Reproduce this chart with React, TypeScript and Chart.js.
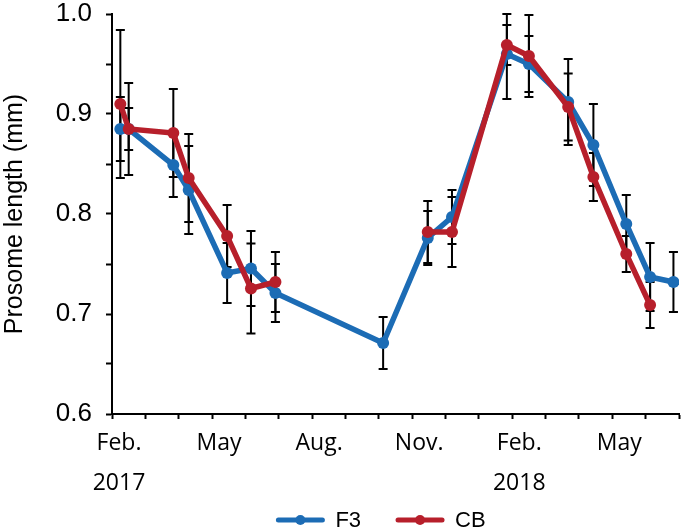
import React, { useEffect, useRef } from "react";
import { Chart, registerables } from "chart.js";

Chart.register(...registerables);

// ---- data ----
const sampleDates = [
  "2017-02-08", "2017-02-15", "2017-03-27", "2017-04-10", "2017-05-15",
  "2017-06-06", "2017-06-28", "2017-10-05", "2017-11-15", "2017-12-07",
  "2018-01-27", "2018-02-15", "2018-03-22", "2018-04-14", "2018-05-14",
  "2018-06-05", "2018-06-26",
];
const f3Length = [0.885, 0.885, 0.849, 0.824, 0.741, 0.7455, 0.721, 0.671, 0.776, 0.797, 0.96, 0.95, 0.912, 0.869, 0.79, 0.737, 0.732];
const f3Error = [0.032, 0.021, 0.032, 0.044, 0.03, 0.0375, 0.029, 0.026, 0.027, 0.027, 0.045, 0.028, 0.043, 0.041, 0.029, 0.034, 0.03];
const cbLength = [0.91, 0.885, 0.881, 0.836, 0.778, 0.7255, 0.732, null, 0.782, 0.782, 0.969, 0.958, 0.907, 0.837, 0.76, 0.709, null];
const cbError = [0.074, 0.046, 0.044, 0.044, 0.031, 0.045, 0.03, null, 0.031, 0.035, 0.02, 0.041, 0.0335, 0.024, 0.018, 0.023, null];

const seriesNames = ["F3", "CB"];
const seriesColors = ["#1c6cb5", "#b71f2b"];

const monthTickLabels = ["Feb.", "May", "Aug.", "Nov.", "Feb.", "May"];
const yearTickLabels = ["2017", "", "", "", "2018", ""];
const labelledMonthOffsets = [0, 3, 6, 9, 12, 15];
const axisMonths = 17; // Feb 2017 .. Jul 2018
const yMin = 0.6;
const yMax = 1.0;
const yTitle = "Prosome length (mm)";

// months elapsed since 1 Feb 2017 (fractional)
function monthPos(iso: string): number {
  const [y, m, d] = iso.split("-").map(Number);
  const dim = new Date(Date.UTC(y, m, 0)).getUTCDate();
  return (y - 2017) * 12 + (m - 2) + (d - 1) / dim;
}

const errorBarPlugin = {
  id: "errorBars",
  beforeDatasetsDraw(chart: any) {
    const { ctx, chartArea, scales } = chart;
    const xs = scales.x;
    const ys = scales.y;
    ctx.save();
    ctx.strokeStyle = "#000";
    ctx.lineWidth = 2;
    chart.data.datasets.forEach((ds: any) => {
      const errs = ds.errors as (number | null)[];
      ds.data.forEach((p: any, i: number) => {
        if (p.y == null || errs[i] == null) return;
        const px = xs.getPixelForValue(p.x);
        let top = ys.getPixelForValue(p.y + (errs[i] as number));
        let bot = ys.getPixelForValue(p.y - (errs[i] as number));
        top = Math.max(top, chartArea.top);
        bot = Math.min(bot, chartArea.bottom);
        const cap = 4.5;
        ctx.beginPath();
        ctx.moveTo(px, top);
        ctx.lineTo(px, bot);
        ctx.moveTo(px - cap, top);
        ctx.lineTo(px + cap, top);
        ctx.moveTo(px - cap, bot);
        ctx.lineTo(px + cap, bot);
        ctx.stroke();
      });
    });
    ctx.restore();
  },
};

const legendPlugin = {
  id: "bottomLegend",
  afterDraw(chart: any) {
    const { ctx } = chart;
    const centerX = 382;
    const y = 520;
    const lineLen = 44;
    const gapText = 13;
    const gapItem = 37;
    ctx.save();
    ctx.font = "22px 'Liberation Sans', Arial, sans-serif";
    ctx.textBaseline = "middle";
    const widths = seriesNames.map((n) => lineLen + gapText + ctx.measureText(n).width);
    const total = widths.reduce((a, b) => a + b, 0) + gapItem * (widths.length - 1);
    let x = centerX - total / 2;
    seriesNames.forEach((n, i) => {
      ctx.strokeStyle = seriesColors[i];
      ctx.fillStyle = seriesColors[i];
      ctx.lineWidth = 5;
      ctx.lineCap = "round";
      ctx.beginPath();
      ctx.moveTo(x, y);
      ctx.lineTo(x + lineLen, y);
      ctx.stroke();
      ctx.beginPath();
      ctx.arc(x + lineLen / 2, y, 5, 0, Math.PI * 2);
      ctx.fill();
      ctx.fillStyle = "#000";
      ctx.textAlign = "left";
      ctx.fillText(n, x + lineLen + gapText, y + 1);
      x += widths[i] + gapItem;
    });
    ctx.restore();
  },
};

export default function App() {
  const ref = useRef<HTMLCanvasElement | null>(null);

  useEffect(() => {
    document.body.style.margin = "0";
    const xs = sampleDates.map(monthPos);
    const f3Data = xs.map((x, i) => ({ x, y: f3Length[i] }));
    const cbData = xs.map((x, i) => ({ x, y: cbLength[i] }));

    const lineStyle = {
      pointBorderWidth: 0,
      pointRadius: 6,
      borderWidth: 5.5,
      tension: 0,
      spanGaps: false,
    };

    const chart = new Chart(ref.current as HTMLCanvasElement, {
      type: "line",
      data: {
        datasets: [
          {
            label: seriesNames[0],
            data: f3Data,
            errors: f3Error,
            borderColor: seriesColors[0],
            backgroundColor: seriesColors[0],
            pointBackgroundColor: seriesColors[0],
            ...lineStyle,
            order: 1,
          } as any,
          {
            label: seriesNames[1],
            data: cbData,
            errors: cbError,
            borderColor: seriesColors[1],
            backgroundColor: seriesColors[1],
            pointBackgroundColor: seriesColors[1],
            ...lineStyle,
            order: 0,
          } as any,
        ],
      },
      options: {
        animation: false,
        responsive: true,
        maintainAspectRatio: false,
        layout: { padding: { left: 0, right: 2, top: 14, bottom: 0 } },
        plugins: {
          legend: { display: false },
          tooltip: { enabled: false },
        },
        scales: {
          x: {
            type: "linear",
            min: 0,
            max: axisMonths,
            afterFit(scale: any) {
              scale.height = 116;
              scale.paddingLeft = 0;
              scale.paddingRight = 0;
            },
            afterBuildTicks(scale: any) {
              const t = [];
              for (let m = 0; m <= axisMonths; m++) t.push({ value: m });
              scale.ticks = t;
            },
            ticks: {
              autoSkip: false,
              maxRotation: 0,
              minRotation: 0,
              labelOffset: 7,
              padding: 4,
              color: "#000",
              font: { family: "'Open Sans', sans-serif", size: 23, lineHeight: 1.75 },
              callback(value: any) {
                const idx = labelledMonthOffsets.indexOf(Math.round(Number(value)));
                if (idx < 0) return "";
                return [monthTickLabels[idx], yearTickLabels[idx]];
              },
            },
            grid: {
              display: true,
              drawOnChartArea: false,
              drawTicks: true,
              tickLength: 5,
              tickColor: "#000",
              tickWidth: 2,
            },
            border: { display: true, color: "#000", width: 2 },
          },
          y: {
            type: "linear",
            min: yMin,
            max: yMax,
            afterFit(scale: any) {
              scale.width = 112;
              scale.paddingTop = 0;
              scale.paddingBottom = 0;
            },
            ticks: {
              stepSize: 0.05,
              padding: 14,
              color: "#000",
              font: { family: "'Liberation Sans', Arial, sans-serif", size: 26, lineHeight: 1.0 },
              callback(value: any) {
                const v = Number(value);
                return Math.abs(v * 10 - Math.round(v * 10)) < 1e-6 ? v.toFixed(1) : "";
              },
            },
            title: {
              display: true,
              text: yTitle,
              color: "#000",
              font: { family: "'Liberation Sans', Arial, sans-serif", size: 25 },
              padding: { top: 0, bottom: 0 },
            },
            grid: {
              display: true,
              drawOnChartArea: false,
              drawTicks: true,
              tickLength: 6,
              tickColor: "#000",
              tickWidth: 2,
            },
            border: { display: true, color: "#000", width: 2 },
          },
        },
      } as any,
      plugins: [errorBarPlugin, legendPlugin],
    });
    return () => chart.destroy();
  }, []);

  return (
    <div style={{ position: "relative", width: 685, height: 530 }}>
      <canvas ref={ref} />
    </div>
  );
}
